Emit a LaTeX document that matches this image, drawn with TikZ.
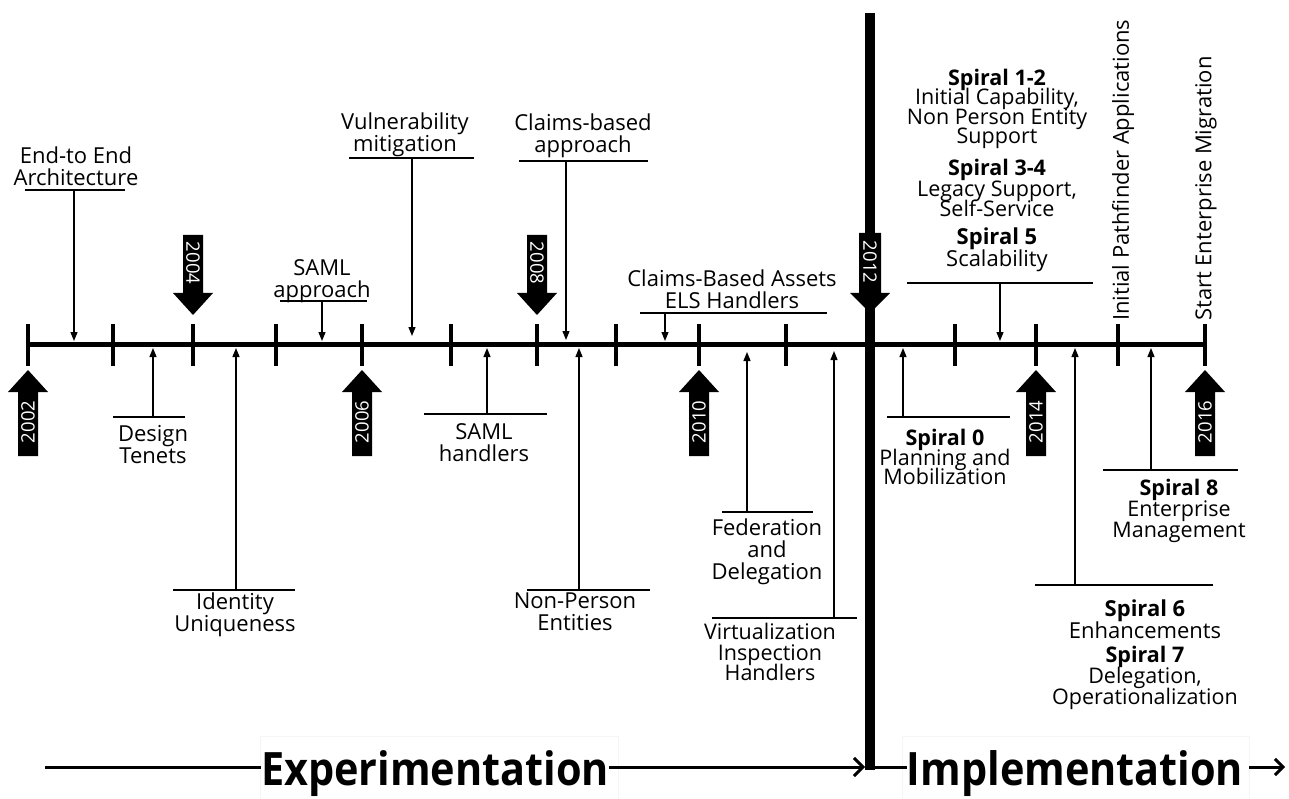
\documentclass[tikz,border=0pt]{standalone}
\usepackage{fontspec}
\setmainfont{Open Sans}
\usetikzlibrary{arrows.meta}

\newcommand\lblfont{\fontsize{22}{22}\selectfont\lineskiplimit=-30pt\relax}
\newcommand\yrfont{\fontsize{18.5}{18.5}\selectfont}
\newcommand\phasefont{\fontsize{46}{46}\selectfont\bfseries}

% year marker pointing up from below the time line
\newcommand\yearup[2]{%
  \fill (#1-10,456) -- (#1-10,392) -- (#1-20,392) -- (#1,370) -- (#1+20,392) -- (#1+10,392) -- (#1+10,456) -- cycle;
  \node[yeartxt, rotate=90] (y#2) at (#1,422) {#2};}
% year marker pointing down from above the time line
\newcommand\yeardown[2]{%
  \fill (#1-10,235) -- (#1-10,293) -- (#1-20,293) -- (#1,315) -- (#1+20,293) -- (#1+10,293) -- (#1+10,235) -- cycle;
  \node[yeartxt, rotate=-90] (y#2) at (#1,263) {#2};}

\begin{document}
\begin{tikzpicture}[x=1pt, y=-1pt,
  mainline/.style={line width=5pt},
  tickmark/.style={line width=4pt},
  lead/.style={line width=1.3pt},
  pointer/.style={lead, -{Triangle[length=9pt,width=7pt]}},
  lbl/.style={inner sep=0pt, align=center, font=\lblfont},
  tight/.style={lbl, font={\fontsize{21.5}{#1}\selectfont\lineskiplimit=-30pt\relax}},
  yeartxt/.style={text=white, font=\yrfont, inner sep=0pt},
  phase/.style={inner sep=0pt, font=\phasefont, anchor=base},
  phasebox/.style={draw=black!4, line width=0.8pt},
  phaseline/.style={line width=3pt},
]
\useasboundingbox (0,0) rectangle (1289,799);

% ---- time line and ticks ----
\coordinate (tl0) at (28,344);
\coordinate (tl1) at (1205,344);
\draw[mainline] (tl0) -- (tl1);
\foreach \x in {28,113,193,276,362,451,537,616,699,786,955,1036,1118,1205}
  \draw[tickmark] (\x,324) -- (\x,366);

% ---- phase text frames ----
\draw[phasebox] (260,799) -- (260,736) -- (618,736) -- (618,799);
\draw[phasebox] (902,799) -- (902,736) -- (1249,736) -- (1249,799);

% ---- phase divider ----
\coordinate (divtop) at (870,13);
\coordinate (divbot) at (870,770);
\draw[line width=10pt] (divtop) -- (divbot);

% ---- year markers ----
\yearup{28}{2002}
\yeardown{193}{2004}
\yearup{362}{2006}
\yeardown{537}{2008}
\yearup{699}{2010}
\yearup{1036}{2014}
\yearup{1205}{2016}
\fill (859,233) -- (859,293) -- (850,293) -- (870,313) -- (890,293) -- (881,293) -- (881,233) -- cycle;
\node[yeartxt, rotate=-90] (y2012) at (870,262) {2012};

% ---- callouts above the line ----
\node[lbl] (e2e) at (76,166) {End-to End\\Architecture};
\coordinate (e2eL) at (25,190); \coordinate (e2eR) at (125,190);
\coordinate (e2eJ) at (74,190); \coordinate (e2eT) at (74,341);
\draw[lead] (e2eL) -- (e2eR);
\draw[pointer] (e2eJ) -- (e2eT);

\node[lbl] (samlA) at (322,281) {SAML\\approach};
\coordinate (samlAL) at (280,301); \coordinate (samlAR) at (367,301);
\coordinate (samlAJ) at (322,301); \coordinate (samlAT) at (322,341);
\draw[lead] (samlAL) -- (samlAR);
\draw[pointer] (samlAJ) -- (samlAT);

\node[lbl] (vuln) at (405,135) {Vulnerability\\mitigation};
\coordinate (vulnL) at (349,158); \coordinate (vulnR) at (474,158);
\coordinate (vulnJ) at (412,158); \coordinate (vulnT) at (412,336);
\draw[lead] (vulnL) -- (vulnR);
\draw[pointer] (vulnJ) -- (vulnT);

\node[lbl] (claimA) at (583,136) {Claims-based\\approach};
\coordinate (claimAL) at (519,161); \coordinate (claimAR) at (648,161);
\coordinate (claimAJ) at (566,161); \coordinate (claimAT) at (566,340);
\draw[lead] (claimAL) -- (claimAR);
\draw[pointer] (claimAJ) -- (claimAT);

\node[lbl] (assets) at (732,289) {Claims-Based Assets\\ELS Handlers};
\coordinate (assetsL) at (640,313); \coordinate (assetsR) at (827,313);
\coordinate (assetsJ) at (665,313); \coordinate (assetsT) at (665,341);
\draw[lead] (assetsL) -- (assetsR);
\draw[pointer] (assetsJ) -- (assetsT);

\node[tight=19.5] (sp12) at (997,109) {\textbf{Spiral 1-2}\\Initial Capability,\\Non Person Entity\\Support};
\node[tight=20.5] (sp34) at (997,188) {\textbf{Spiral 3-4}\\Legacy Support,\\Self-Service};
\node[lbl] (sp5) at (997,250) {\textbf{Spiral 5}\\Scalability};
\coordinate (sp5L) at (907,283); \coordinate (sp5R) at (1093,283);
\coordinate (sp5J) at (1000,283); \coordinate (sp5T) at (1000,341);
\draw[lead] (sp5L) -- (sp5R);
\draw[pointer] (sp5J) -- (sp5T);

\node[lbl, rotate=90, anchor=west] (pathf) at (1123,321) {Initial Pathfinder Applications};
\node[lbl, rotate=90, anchor=west] (entmig) at (1206,321) {Start Enterprise Migration};

% ---- callouts below the line ----
\node[lbl] (tenets) at (153,445) {Design\\Tenets};
\coordinate (tenetsL) at (113,417); \coordinate (tenetsR) at (185,417);
\coordinate (tenetsJ) at (153,417); \coordinate (tenetsT) at (153,348);
\draw[lead] (tenetsL) -- (tenetsR);
\draw[pointer] (tenetsJ) -- (tenetsT);

\node[lbl] (ident) at (235,615) {Identity\\Uniqueness};
\coordinate (identL) at (173,590); \coordinate (identR) at (295,590);
\coordinate (identJ) at (236,590); \coordinate (identT) at (236,348);
\draw[lead] (identL) -- (identR);
\draw[pointer] (identJ) -- (identT);

\node[lbl] (samlH) at (484,443) {SAML\\handlers};
\coordinate (samlHL) at (424,414); \coordinate (samlHR) at (547,414);
\coordinate (samlHJ) at (487,414); \coordinate (samlHT) at (487,348);
\draw[lead] (samlHL) -- (samlHR);
\draw[pointer] (samlHJ) -- (samlHT);

\node[lbl] (npe) at (575,612) {Non-Person\\Entities};
\coordinate (npeL) at (527,590); \coordinate (npeR) at (650,590);
\coordinate (npeJ) at (579,590); \coordinate (npeT) at (579,348);
\draw[lead] (npeL) -- (npeR);
\draw[pointer] (npeJ) -- (npeT);

\node[lbl] (fed) at (767,552) {Federation\\and\\Delegation};
\coordinate (fedL) at (722,512); \coordinate (fedR) at (813,512);
\coordinate (fedJ) at (747,512); \coordinate (fedT) at (747,352);
\draw[lead] (fedL) -- (fedR);
\draw[pointer] (fedJ) -- (fedT);

\node[tight=20.5] (virt) at (770,652) {Virtualization\\Inspection\\Handlers};
\coordinate (virtL) at (712,618); \coordinate (virtR) at (857,618);
\coordinate (virtJ) at (834,618); \coordinate (virtT) at (834,351);
\draw[lead] (virtL) -- (virtR);
\draw[pointer] (virtJ) -- (virtT);

\node[tight=19.5] (sp0) at (945,457) {\textbf{Spiral 0}\\Planning and\\Mobilization};
\coordinate (sp0L) at (887,417); \coordinate (sp0R) at (1010,417);
\coordinate (sp0J) at (903,417); \coordinate (sp0T) at (903,348);
\draw[lead] (sp0L) -- (sp0R);
\draw[pointer] (sp0J) -- (sp0T);

\node[lbl] (sp6) at (1145,619) {\textbf{Spiral 6}\\Enhancements};
\node[tight=21] (sp7) at (1145,678) {\textbf{Spiral 7}\\Delegation,\\Operationalization};
\coordinate (sp6L) at (1035,585); \coordinate (sp6R) at (1213,585);
\coordinate (sp6J) at (1075,585); \coordinate (sp6T) at (1075,348);
\draw[lead] (sp6L) -- (sp6R);
\draw[pointer] (sp6J) -- (sp6T);

\node[tight=21] (sp8) at (1179,511) {\textbf{Spiral 8}\\Enterprise\\Management};
\coordinate (sp8L) at (1103,470); \coordinate (sp8R) at (1238,470);
\coordinate (sp8J) at (1151,470); \coordinate (sp8T) at (1151,348);
\draw[lead] (sp8L) -- (sp8R);
\draw[pointer] (sp8J) -- (sp8T);

% ---- phases ----
\node[phase] (exper) at (435,785) {\scalebox{0.9}[1]{Experimentation}};
\node[phase] (implem) at (1075,785) {\scalebox{0.9}[1]{Implementation}};
\coordinate (ph0) at (45,767);
\coordinate (ph1) at (865,767);
\coordinate (ph2) at (874,767);
\coordinate (ph3) at (1285,767);
\draw[phaseline] (ph0) -- (ph0 -| exper.west);
\draw[phaseline, -{Straight Barb[length=9pt,width=18pt]}] (ph0 -| exper.east) -- (ph1);
\draw[phaseline] (ph2) -- (ph2 -| implem.west);
\draw[line width=3pt, -{Straight Barb[length=8pt,width=16pt]}] ([xshift=6pt]ph2 -| implem.east) -- (ph3);
\end{tikzpicture}
\end{document}
